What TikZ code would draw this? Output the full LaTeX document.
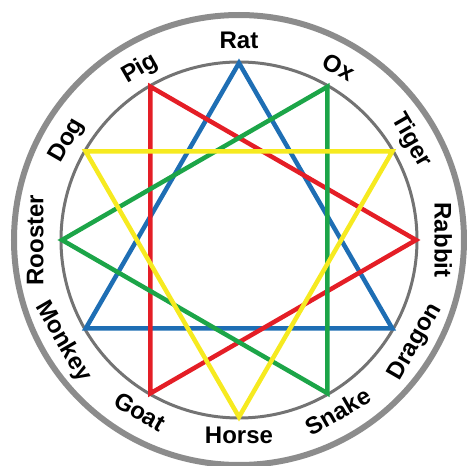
\documentclass[tikz,border=0pt]{standalone}
\usepackage{fontspec}
\setmainfont{Liberation Sans}
\definecolor{zblue}{RGB}{30,110,180}
\definecolor{zred}{RGB}{228,30,38}
\definecolor{zgreen}{RGB}{28,165,72}
\definecolor{zyellow}{RGB}{246,234,32}
\begin{document}
\begin{tikzpicture}[x=1pt, y=1pt,
		l/.style = {font=\fontsize{24}{28}\selectfont\bfseries, inner sep=0, text height=17pt, text depth=0pt},
		bt/.style = {draw=zblue,	line width=4.5},
		rt/.style = {draw=zred,		line width=4.5},
		gt/.style = {draw=zgreen,	line width=4.5},
		yt/.style = {draw=zyellow,	line width=4.5}
		]
		\useasboundingbox (-239,-226) rectangle (233,240);
		
		%Rings
		\draw[black!45, line width=6]	(0,0) circle (225);
		\draw[black!55, line width=3]	(0,0) circle (178);
		
		%Points
		\coordinate	(rat)		at	(90:177);
		\coordinate	(ox)		at	(60:177);
		\coordinate	(tiger)		at	(30:177);
		\coordinate	(rabbit)	at	(0:177);
		\coordinate	(dragon)	at	(-30:177);
		\coordinate	(snake)		at	(-60:177);
		\coordinate	(horse)		at	(-90:177);
		\coordinate	(goat)		at	(-120:177);
		\coordinate	(monkey)	at	(-150:177);
		\coordinate	(rooster)	at	(180:177);
		\coordinate	(dog)		at	(150:177);
		\coordinate	(pig)		at	(120:177);
		
		%Nodes
		\node[l, rotate=0]		(lrat)		at	(90:200)	{Rat};
		\node[l, rotate=-30]	(lox)		at	(60:200)	{Ox};
		\node[l, rotate=-60]	(ltiger)	at	(30:201)	{Tiger};
		\node[l, rotate=-90]	(lrabbit)	at	(0:204)		{Rabbit};
		\node[l, rotate=60]		(ldragon)	at	(-30:201)	{Dragon};
		\node[l, rotate=30]		(lsnake)	at	(-60:198)	{Snake};
		\node[l, rotate=0]		(lhorse)	at	(-90:195)	{Horse};
		\node[l, rotate=-30]	(lgoat)		at	(-120:198)	{Goat};
		\node[l, rotate=-60]	(lmonkey)	at	(-150:201)	{Monkey};
		\node[l, rotate=90]		(lrooster)	at	(180:204)	{Rooster};
		\node[l, rotate=60]		(ldog)		at	(150:201)	{Dog};
		\node[l, rotate=30]		(lpig)		at	(120:200)	{Pig};
		
		%Lines
		\draw[bt]	(rat)	--	(dragon)	--	(monkey)	--	cycle;
		\draw[rt]	(pig)	--	(rabbit)	--	(goat)		--	cycle;
		\draw[gt]	(ox)	--	(snake)		--	(rooster)	--	cycle;
		\draw[yt]	(dog)	--	(tiger)		--	(horse)		--	cycle;
	\end{tikzpicture}
\end{document}
